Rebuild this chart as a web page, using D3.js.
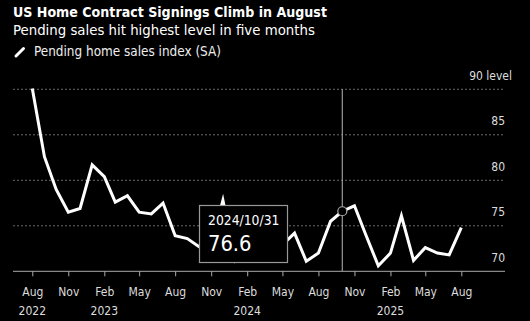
<!DOCTYPE html>
<html>
<head>
<meta charset="utf-8">
<script src="https://cdn.jsdelivr.net/npm/d3@7"></script>
<style>
  html, body { margin: 0; padding: 0; background: #000; }
  svg { display: block; }
  text { font-family: "DejaVu Sans Condensed", "DejaVu Sans", sans-serif; font-stretch: condensed; }
</style>
</head>
<body>
<svg id="chart" width="530" height="321"></svg>
<script>
// ---- data ----
const title = "US Home Contract Signings Climb in August";
const subtitle = "Pending sales hit highest level in five months";
const seriesName = "Pending home sales index (SA)";
const startMonth = "2022-08";
const values = [
  90.1, 82.6, 79.0, 76.5, 76.9,              // Aug–Dec 2022
  81.7, 80.4, 77.6, 78.3, 76.5, 76.3, 77.5,  // Jan–Jul 2023
  73.9, 73.6, 72.7, 72.9, 77.8,              // Aug–Dec 2023
  71.3, 73.8, 75.0, 72.0, 72.9, 74.2, 71.1,  // Jan–Jul 2024
  72.0, 75.5, 76.6, 77.2, 73.9,              // Aug–Dec 2024
  70.6, 72.0, 76.1, 71.2, 72.6, 72.0, 71.8,  // Jan–Jul 2025
  74.8                                       // Aug 2025
];
const yTicks = [70, 75, 80, 85, 90];
const yTopSuffix = " level";
const yearLabels = [["2022-08", "2022"], ["2023-02", "2023"], ["2024-02", "2024"], ["2025-02", "2025"]];
const highlightIndex = 26; // Oct 2024

// ---- setup ----
const parseMonth = d3.utcParse("%Y-%m");
const start = parseMonth(startMonth);
const dates = values.map((v, i) => d3.utcMonth.offset(start, i));
const data = values.map((v, i) => ({ date: dates[i], value: v }));

const svg = d3.select("#chart");
svg.append("rect").attr("width", 530).attr("height", 321).attr("fill", "#000");

const plotLeft = 13, plotRight = 505;
const x = d3.scaleUtc().domain([dates[0], dates[dates.length - 1]]).range([32.3, 461.3]);
const y = d3.scaleLinear().domain([70, 90]).range([271.3, 89.3]);

function fitText(sel, width) {
  const node = sel.node();
  const fs = parseFloat(sel.attr("font-size"));
  const w = node.getComputedTextLength();
  sel.attr("font-size", (fs * width / w).toFixed(2));
}

// ---- header ----
svg.append("text").attr("x", 13).attr("y", 17).attr("fill", "#fff")
  .attr("font-size", 15).attr("font-weight", "bold").text(title)
  .call(fitText, 314);
svg.append("text").attr("x", 13).attr("y", 34.5).attr("fill", "#fff")
  .attr("font-size", 14).text(subtitle)
  .call(fitText, 302);
svg.append("line").attr("x1", 16).attr("y1", 56).attr("x2", 23.5).attr("y2", 48.5)
  .attr("stroke", "#fff").attr("stroke-width", 3).attr("stroke-linecap", "round");
svg.append("text").attr("x", 34).attr("y", 55.5).attr("fill", "#eee")
  .attr("font-size", 12).text(seriesName)
  .call(fitText, 187);

// ---- grid + y labels ----
const grid = svg.append("g");
yTicks.filter(t => t !== 70).forEach(t => {
  grid.append("line").attr("x1", plotLeft).attr("x2", plotRight)
    .attr("y1", y(t)).attr("y2", y(t))
    .attr("stroke", "#6a6a6a").attr("stroke-width", 1).attr("stroke-dasharray", "2,2");
});
yTicks.forEach((t, i) => {
  const isTop = i === yTicks.length - 1;
  svg.append("text")
    .attr("x", isTop ? 512 : 505).attr("y", y(t) - 9.5)
    .attr("text-anchor", "end").attr("fill", "#ddd").attr("font-size", 12)
    .text(isTop ? t + yTopSuffix : t);
});

// ---- x axis ----
svg.append("line").attr("x1", plotLeft).attr("x2", plotRight)
  .attr("y1", y(70)).attr("y2", y(70)).attr("stroke", "#aaa").attr("stroke-width", 1);
const tickDates = d3.utcMonths(dates[0], d3.utcDay.offset(dates[dates.length - 1], 1), 3);
const xAxis = d3.axisBottom(x).tickValues(tickDates).tickFormat(d3.utcFormat("%b"))
  .tickSize(5).tickPadding(11);
const ax = svg.append("g").attr("transform", `translate(0,${y(70)})`).call(xAxis);
ax.select(".domain").remove();
ax.selectAll(".tick line").attr("stroke", "#aaa");
ax.selectAll(".tick text").attr("fill", "#ddd").attr("font-size", 12)
  .attr("font-family", null);
yearLabels.forEach(([m, lab]) => {
  svg.append("text").attr("x", x(parseMonth(m))).attr("y", 315)
    .attr("text-anchor", "middle").attr("fill", "#ddd").attr("font-size", 12).text(lab);
});

// ---- line ----
const line = d3.line().x(d => x(d.date)).y(d => y(d.value));
svg.append("path").datum(data).attr("d", line)
  .attr("fill", "none").attr("stroke", "#fff").attr("stroke-width", 3)
  .attr("stroke-linejoin", "miter").attr("stroke-miterlimit", 10);

// ---- crosshair + tooltip ----
const hp = data[highlightIndex];
svg.append("line").attr("x1", x(hp.date)).attr("x2", x(hp.date))
  .attr("y1", y(90)).attr("y2", y(70)).attr("stroke", "#999").attr("stroke-width", 1.2);
svg.append("circle").attr("cx", x(hp.date)).attr("cy", y(hp.value)).attr("r", 4.5)
  .attr("fill", "#000").attr("stroke", "#aaa").attr("stroke-width", 1.2);

const tip = svg.append("g");
tip.append("rect").attr("x", 199.5).attr("y", 205.5).attr("width", 88).attr("height", 57)
  .attr("fill", "#000").attr("stroke", "#999").attr("stroke-width", 1.2);
const monthEnd = d3.utcDay.offset(d3.utcMonth.offset(hp.date, 1), -1);
tip.append("text").attr("x", 208).attr("y", 225).attr("fill", "#fff").attr("font-size", 13)
  .text(d3.utcFormat("%Y/%m/%d")(monthEnd)).call(fitText, 71.5);
tip.append("text").attr("x", 208).attr("y", 251).attr("fill", "#fff").attr("font-size", 22)
  .text(d3.format(".1f")(hp.value)).call(fitText, 43.5);
</script>
</body>
</html>
